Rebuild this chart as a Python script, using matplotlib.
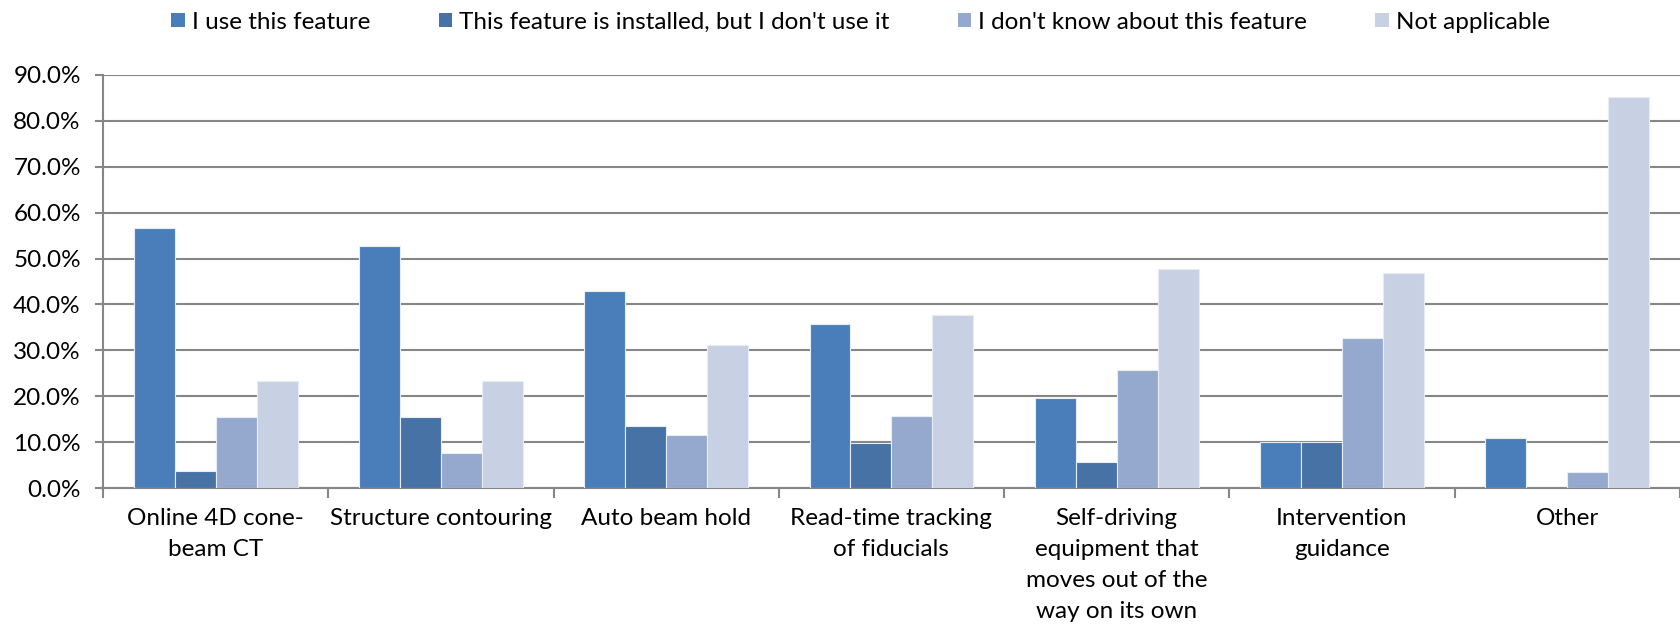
import matplotlib.pyplot as plt
import numpy as np
from matplotlib.patches import Patch

categories = ["Online 4D cone-\nbeam CT", "Structure contouring", "Auto beam hold",
              "Read-time tracking\nof fiducials",
              "Self-driving\nequipment that\nmoves out of the\nway on its own",
              "Intervention\nguidance", "Other"]
series_names = ["I use this feature", "This feature is installed, but I don't use it",
                "I don't know about this feature", "Not applicable"]
use_it = [56.7, 52.8, 43.0, 35.8, 19.7, 10.0, 11.0]
installed = [3.7, 15.5, 13.5, 9.8, 5.8, 10.0, 0.0]
dont_know = [15.5, 7.6, 11.5, 15.8, 25.8, 32.6, 3.6]
not_applicable = [23.4, 23.4, 31.2, 37.8, 47.8, 46.9, 85.1]
colors = ["#4A7EBB", "#4672A6", "#95A9CF", "#C8D1E3"]

plt.rcParams['font.family'] = ['Lato', 'DejaVu Sans']
fs = 17.5
fig = plt.figure(figsize=(16.81, 6.34), dpi=100)
ax = fig.add_axes([0.0613, 0.230, 0.938, 0.652])

series = [use_it, installed, dont_know, not_applicable]
w = 1 / 5.5
x = np.arange(len(categories))
for i, vals in enumerate(series):
    ax.bar(x + 0.5 - 2 * w + (i + 0.5) * w, vals, width=w, color=colors[i],
           edgecolor="#E8ECF4", linewidth=0.8, zorder=3)

ax.set_xlim(0, len(categories))
ax.set_ylim(0, 90)
ax.set_yticks(np.arange(0, 91, 10))
ax.set_yticklabels([f"{v:.1f}%" for v in np.arange(0, 91, 10)], fontsize=fs)
ax.yaxis.grid(True, color="#868686", linewidth=1.5, zorder=0)

ax.set_xticks(np.arange(0, len(categories) + 1))
ax.set_xticklabels([])
ax.set_xticks(x + 0.5, minor=True)
ax.set_xticklabels(categories, minor=True, fontsize=fs, linespacing=1.6, va="top")
ax.tick_params(axis="x", which="minor", length=0, pad=14)
ax.tick_params(axis="x", which="major", length=7, width=1.5, color="#868686")
ax.tick_params(axis="y", length=6, width=1.5, color="#868686", pad=10)

for side in ["top", "right"]:
    ax.spines[side].set_visible(False)
for side in ["left", "bottom"]:
    ax.spines[side].set_color("#868686")
    ax.spines[side].set_linewidth(1.5)

handles = [Patch(facecolor=c, edgecolor="none") for c in colors]
fig.legend(handles, series_names, loc="center", bbox_to_anchor=(0.512, 0.965), ncol=4,
           frameon=False, fontsize=fs, handlelength=0.55, handleheight=0.55,
           handletextpad=0.3, columnspacing=2.8)

fig.savefig("out.png", dpi=100)
